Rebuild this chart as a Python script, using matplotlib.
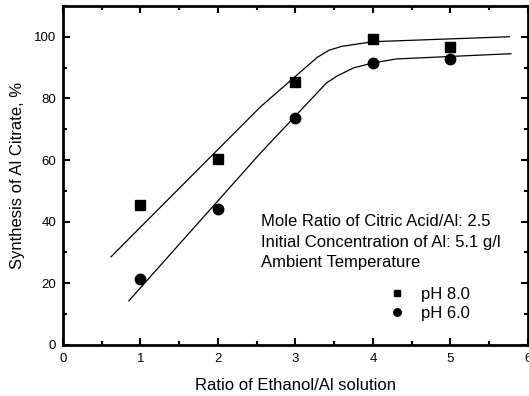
import matplotlib
matplotlib.use('Agg')
import matplotlib.pyplot as plt
from matplotlib.ticker import MultipleLocator

plt.rcParams['font.family'] = ['Liberation Sans', 'DejaVu Sans']
plt.rcParams['font.size'] = 12

# measured points
ratio = [1, 2, 3, 4, 5]
ph8 = [45.5, 60.3, 85.3, 99.2, 96.8]
ph6 = [21.5, 44.2, 73.5, 91.5, 92.8]

# fitted curves
fit8_x = [0.62, 2.55, 3.28, 3.43, 3.6, 4.0, 5.76]
fit8_y = [28.6, 77.3, 93.3, 95.6, 96.9, 98.4, 100.0]
fit6_x = [0.85, 2.55, 3.4, 3.54, 3.75, 4.0, 4.3, 5.78]
fit6_y = [14.3, 62.3, 85.0, 87.3, 89.9, 91.5, 92.8, 94.5]

notes = ['Mole Ratio of Citric Acid/Al: 2.5',
         'Initial Concentration of Al: 5.1 g/l',
         'Ambient Temperature']

fig = plt.figure(figsize=(5.29, 3.96), dpi=100)
ax = fig.add_axes([0.119, 0.129, 0.879, 0.856])

ax.plot(fit8_x, fit8_y, color='black', lw=0.9)
ax.plot(fit6_x, fit6_y, color='black', lw=0.9)
ax.plot(ratio, ph8, 's', color='black', ms=6.5, label='pH 8.0')
ax.plot(ratio, ph6, 'o', color='black', ms=7.5, label='pH 6.0')

ax.set_xlim(0, 6)
ax.set_ylim(0, 110)
ax.xaxis.set_major_locator(MultipleLocator(1))
ax.xaxis.set_minor_locator(MultipleLocator(0.5))
ax.yaxis.set_major_locator(MultipleLocator(20))
ax.yaxis.set_minor_locator(MultipleLocator(10))
ax.tick_params(which='both', direction='in', top=True, right=True, width=1.5,
               labelsize=9.5)
ax.tick_params(which='major', length=5)
ax.tick_params(which='minor', length=3)
ax.tick_params(axis='x', pad=6)
ax.tick_params(axis='y', pad=5)
for s in ax.spines.values():
    s.set_linewidth(2)

ax.set_xlabel('Ratio of Ethanol/Al solution', labelpad=9)
ax.set_ylabel('Synthesis of Al Citrate, %', labelpad=6)

for i, line in enumerate(notes):
    ax.text(0.426, 0.363 - 0.0605 * i, line, transform=ax.transAxes,
            va='center', ha='left')

ax.legend(loc='center left', bbox_to_anchor=(0.683, 0.121), frameon=False,
          borderpad=0, handlelength=1, handletextpad=0.94, markerscale=0.72,
          labelspacing=0.25)

fig.savefig('out.png', dpi=100)
